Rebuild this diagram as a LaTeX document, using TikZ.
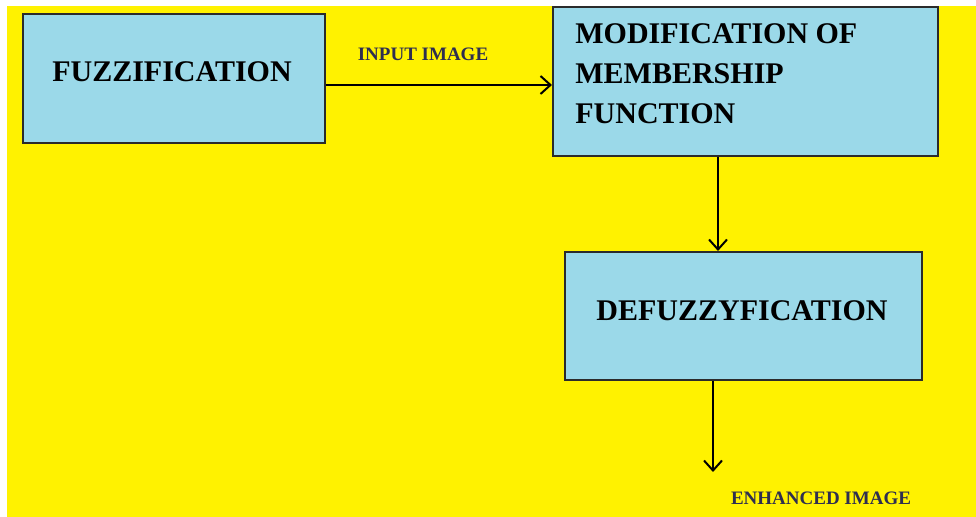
\documentclass[tikz,border=0pt]{standalone}
\usepackage{fontspec}
\setmainfont{Liberation Serif}
\usetikzlibrary{arrows.meta,fit,calc,positioning}

\definecolor{bgyellow}{HTML}{FFF200}
\definecolor{boxblue}{HTML}{9BD9E9}
\definecolor{boxline}{HTML}{2B2B2B}
\definecolor{lbltext}{HTML}{2E2E50}

\tikzset{
	box/.style={draw=boxline, line width=1pt, fill=boxblue, inner sep=0pt},
	boxtext/.style={font=\fontsize{15}{20}\selectfont\bfseries, inner sep=0pt},
	lbl/.style={font=\fontsize{9.5}{11}\selectfont\bfseries, text=lbltext, inner sep=0pt},
	flow/.style={line width=1pt, -{Straight Barb[length=5pt,width=9pt]}}
}

\begin{document}
\begin{tikzpicture}[x=0.5pt,y=-0.5pt]

		\useasboundingbox (0,0) rectangle (976,517);
		\fill[bgyellow] (7,6) rectangle (976,517);

		% Fuzzification
		\node[box, fit={(23,14) (325,143)}] (fuzz) {};
		\node[boxtext] (fuzztxt) at (172,72) {FUZZIFICATION};

		% Modification of membership function
		\node[box, fit={(553,7) (938,156)}] (mod) {};
		\node[boxtext, anchor=north west, align=left] (modtxt) at (575,23)
			{MODIFICATION OF\\MEMBERSHIP\\FUNCTION};

		% Defuzzyfication
		\node[box, fit={(565,252) (922,380)}] (defuzz) {};
		\node[boxtext] (defuzztxt) at (742,311) {DEFUZZYFICATION};

		% Input
		\node[lbl] (input) at (423,54) {INPUT IMAGE};
		\coordinate (f1) at ($(fuzz.east)+(0,6.5)$);
		\draw[flow] (f1) -- (f1 -| mod.west);

		% Modification -> defuzzyfication
		\coordinate (m2) at ($(mod.south)+(-27.5,0)$);
		\draw[flow] (m2) -- (m2 |- defuzz.north);

		% Output
		\coordinate (d3) at ($(defuzz.south)+(-30.5,0)$);
		\coordinate (out) at (713,472);
		\draw[flow] (d3) -- (out);
		\node[lbl] (enh) at (821,498) {ENHANCED IMAGE};

\end{tikzpicture}
\end{document}
